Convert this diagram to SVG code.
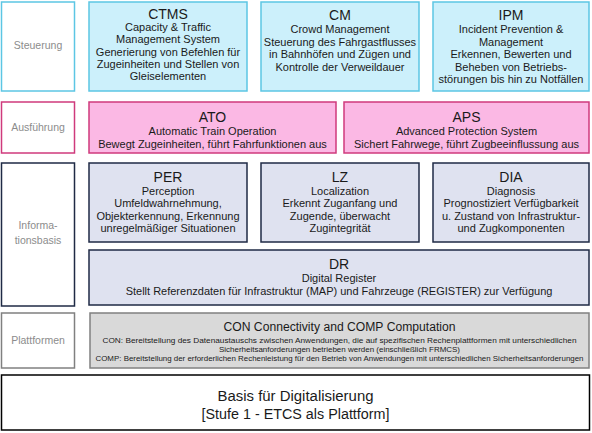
<svg xmlns="http://www.w3.org/2000/svg" width="592" height="433" viewBox="0 0 592 433">
<style>
text{font-family:"Liberation Sans",Arial,sans-serif;text-anchor:middle;fill:#1a1a1a}
.lab{font-size:10.5px;fill:#8c8c8c}
.t{font-size:14px}
.b{font-size:11px}
.s{font-size:7.2px}
.lb{fill:#fff;stroke-width:1.5}
.cy{fill:#ccf0fb;stroke:#5cc6e4;stroke-width:1.5}
.pk{fill:#fbb8e4;stroke:#cf3a7c;stroke-width:1.5}
.nv{fill:#dfe2f0;stroke:#1f2a45;stroke-width:1.5}
.gy{fill:#d9d9d9;stroke:#808080;stroke-width:1.5}
</style>
<rect width="592" height="433" fill="#fff"/>
<g id="lab-steuerung"><rect class="lb" x="1.5" y="2" width="73" height="89" stroke="#5cc6e4"/><text class="lab" x="38" y="49">Steuerung</text></g>
<g id="ctms"><rect class="cy" x="89" y="2" width="158" height="89"/>
<text class="t" x="168" y="19">CTMS</text>
<text class="b" x="168" y="31">Capacity &amp; Traffic</text>
<text class="b" x="168" y="43">Management System</text>
<text class="b" x="168" y="55.5">Generierung von Befehlen für</text>
<text class="b" x="168" y="67.5">Zugeinheiten und Stellen von</text>
<text class="b" x="168" y="80">Gleiselementen</text></g>
<g id="cm"><rect class="cy" x="261" y="2" width="158" height="89"/>
<text class="t" x="340" y="20">CM</text>
<text class="b" x="340" y="33">Crowd Management</text>
<text class="b" x="340" y="45.5">Steuerung des Fahrgastflusses</text>
<text class="b" x="340" y="58">in Bahnhöfen und Zügen und</text>
<text class="b" x="340" y="70.5">Kontrolle der Verweildauer</text></g>
<g id="ipm"><rect class="cy" x="433" y="2" width="156" height="89"/>
<text class="t" x="511" y="20">IPM</text>
<text class="b" x="511" y="33">Incident Prevention &amp;</text>
<text class="b" x="511" y="45.5">Management</text>
<text class="b" x="511" y="58">Erkennen, Bewerten und</text>
<text class="b" x="511" y="70.5">Beheben von Betriebs-</text>
<text class="b" x="511" y="83">störungen bis hin zu Notfällen</text></g>
<g id="lab-ausfuehrung"><rect class="lb" x="1.5" y="102" width="73" height="51" stroke="#cf3a7c"/><text class="lab" x="38" y="131">Ausführung</text></g>
<g id="ato"><rect class="pk" x="89" y="102" width="247" height="51"/>
<text class="t" x="212.5" y="122">ATO</text>
<text class="b" x="212.5" y="135">Automatic Train Operation</text>
<text class="b" x="212.5" y="148">Bewegt Zugeinheiten, führt Fahrfunktionen aus</text></g>
<g id="aps"><rect class="pk" x="344" y="102" width="245" height="51"/>
<text class="t" x="466.5" y="122">APS</text>
<text class="b" x="466.5" y="135">Advanced Protection System</text>
<text class="b" x="466.5" y="148">Sichert Fahrwege, führt Zugbeeinflussung aus</text></g>
<g id="lab-informationsbasis"><rect class="lb" x="1.5" y="163" width="73" height="143" stroke="#1f2a45"/>
<text class="lab" x="38" y="229">Informa-</text><text class="lab" x="38" y="244">tionsbasis</text></g>
<g id="per"><rect class="nv" x="89" y="163" width="158" height="79"/>
<text class="t" x="168" y="182">PER</text>
<text class="b" x="168" y="194.5">Perception</text>
<text class="b" x="168" y="207">Umfeldwahrnehmung,</text>
<text class="b" x="168" y="219.5">Objekterkennung, Erkennung</text>
<text class="b" x="168" y="232">unregelmäßiger Situationen</text></g>
<g id="lz"><rect class="nv" x="261" y="163" width="158" height="79"/>
<text class="t" x="340" y="182">LZ</text>
<text class="b" x="340" y="194.5">Localization</text>
<text class="b" x="340" y="207">Erkennt Zuganfang und</text>
<text class="b" x="340" y="219.5">Zugende, überwacht</text>
<text class="b" x="340" y="232">Zugintegrität</text></g>
<g id="dia"><rect class="nv" x="433" y="163" width="156" height="79"/>
<text class="t" x="511" y="182">DIA</text>
<text class="b" x="511" y="194.5">Diagnosis</text>
<text class="b" x="511" y="207">Prognostiziert Verfügbarkeit</text>
<text class="b" x="511" y="219.5">u. Zustand von Infrastruktur-</text>
<text class="b" x="511" y="232">und Zugkomponenten</text></g>
<g id="dr"><rect class="nv" x="89" y="250" width="500" height="55"/>
<text class="t" x="339" y="269">DR</text>
<text class="b" x="339" y="282">Digital Register</text>
<text class="b" x="339" y="295">Stellt Referenzdaten für Infrastruktur (MAP) und Fahrzeuge (REGISTER) zur Verfügung</text></g>
<g id="lab-plattformen"><rect class="lb" x="1.5" y="313" width="73" height="55" stroke="#808080"/><text class="lab" x="38" y="344">Plattformen</text></g>
<g id="con"><rect class="gy" x="90" y="313" width="499" height="55"/>
<text x="339.5" y="331" font-size="12.5" textLength="232" lengthAdjust="spacingAndGlyphs">CON Connectivity and COMP Computation</text>
<text class="s" x="339.5" y="343" textLength="474" lengthAdjust="spacingAndGlyphs">CON: Bereitstellung des Datenaustauschs zwischen Anwendungen, die auf spezifischen Rechenplattformen mit unterschiedlichen</text>
<text class="s" x="339.5" y="352" textLength="241" lengthAdjust="spacingAndGlyphs">Sicherheitsanforderungen betrieben werden (einschließlich FRMCS)</text>
<text class="s" x="339.5" y="361" textLength="488" lengthAdjust="spacingAndGlyphs">COMP: Bereitstellung der erforderlichen Rechenleistung für den Betrieb von Anwendungen mit unterschiedlichen Sicherheitsanforderungen</text></g>
<g id="basis"><rect x="1.5" y="375" width="588" height="55" fill="#fff" stroke="#000" stroke-width="1.5"/>
<text x="295.5" y="401" font-size="15.5" textLength="156" lengthAdjust="spacingAndGlyphs">Basis für Digitalisierung</text>
<text x="295.5" y="419" font-size="15.5" textLength="188" lengthAdjust="spacingAndGlyphs">[Stufe 1 - ETCS als Plattform]</text></g>
<g id="connectors"/>
</svg>
